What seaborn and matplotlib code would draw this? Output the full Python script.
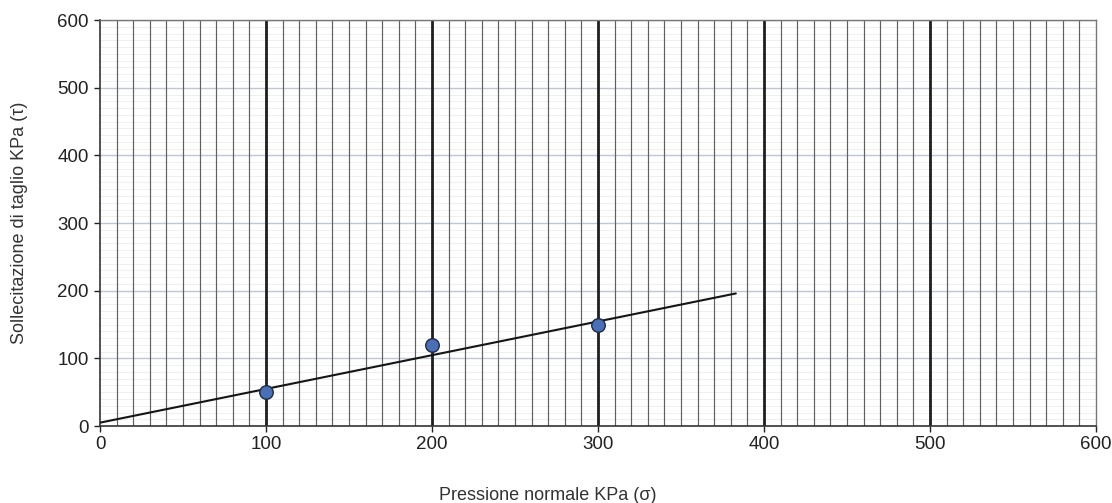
import numpy as np
import pandas as pd
import matplotlib
matplotlib.use("Agg")
import matplotlib.pyplot as plt
import seaborn as sns

# measured points (normal stress vs shear stress)
sigma = [100, 200, 300]
tau = [50, 120, 150]

# trend line endpoints
line_sigma = [0, 383]
line_tau = [5, 196]

x_ticks = [0, 100, 200, 300, 400, 500, 600]
y_ticks = [0, 100, 200, 300, 400, 500, 600]

sns.set_theme(style="white")
plt.rcParams["font.family"] = ["Liberation Sans", "DejaVu Sans"]

fig = plt.figure(figsize=(11.12, 5.03), dpi=100)
ax = fig.add_axes([0.09, 0.153, 0.8956, 0.807])

# faint horizontal minor grid, bluish major grid
for yv in np.arange(0, 601, 10):
    ax.axhline(yv, color="#eaecef", lw=0.6, zorder=0)
for yv in y_ticks[1:]:
    ax.axhline(yv, color="#bcc6d8", lw=1.0, zorder=0.5)

# vertical minor grid every 10, heavy at every 100
for xv in np.arange(10, 600, 10):
    if xv % 100 == 0:
        ax.axvline(xv, color="#1e1e1e", lw=2.0, zorder=1)
    else:
        ax.axvline(xv, color="#606060", lw=0.85, zorder=1)

df_line = pd.DataFrame({"sigma": line_sigma, "tau": line_tau})
sns.lineplot(data=df_line, x="sigma", y="tau", ax=ax, color="#151515",
             lw=1.5, zorder=3)

df_pts = pd.DataFrame({"sigma": sigma, "tau": tau})
sns.scatterplot(data=df_pts, x="sigma", y="tau", ax=ax, s=95,
                color="#4a6fb5", edgecolor="#1f2a44", linewidth=1.0, zorder=4)

ax.set_xlim(0, 600)
ax.set_ylim(0, 600)
ax.set_xticks(x_ticks)
ax.set_yticks(y_ticks)
ax.tick_params(axis="both", labelsize=13.5, colors="#222222", length=4,
               width=1, direction="out", bottom=True, left=True)
ax.tick_params(axis="x", pad=3)
ax.tick_params(axis="y", pad=4)

for side in ["left", "bottom"]:
    ax.spines[side].set_color("#333333")
    ax.spines[side].set_linewidth(1.2)
for side in ["top", "right"]:
    ax.spines[side].set_color("#777777")
    ax.spines[side].set_linewidth(1.0)

ax.set_xlabel("Pressione normale KPa (σ)", fontsize=13, color="#333333")
ax.set_ylabel("Sollecitazione di taglio KPa (τ)", fontsize=13,
              color="#333333")
ax.xaxis.set_label_coords(0.45, -0.15)
ax.yaxis.set_label_coords(-0.072, 0.5)

plt.savefig("out.png", dpi=100)
